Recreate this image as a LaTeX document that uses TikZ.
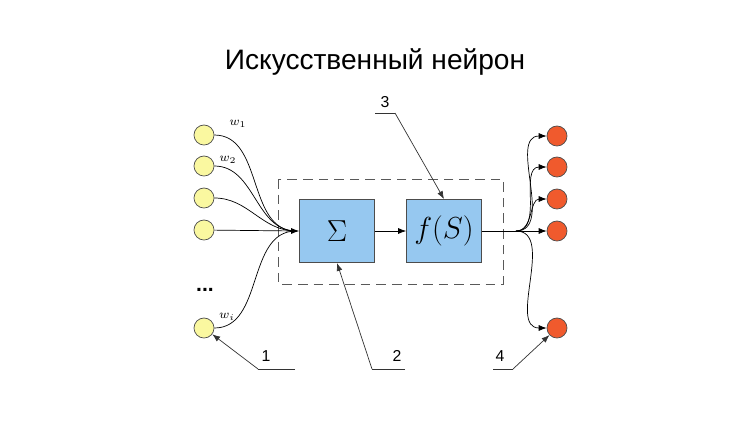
\documentclass[tikz,border=0pt]{standalone}
\usepackage{fontspec}
\setmainfont{Liberation Sans}
\usetikzlibrary{arrows.meta}
\definecolor{inyellow}{RGB}{250,248,160}
\definecolor{outred}{RGB}{240,90,45}
\definecolor{boxblue}{RGB}{150,200,240}
\begin{document}
\begin{tikzpicture}[x=0.02cm, y=-0.02cm,
    every edge/.style={draw, thin, -{Latex[length=4.5pt]}},
    callout/.style={draw, thin, gray!40!black, -{Latex[length=4.5pt]}}]
    \useasboundingbox (0,0) rectangle (750,420);
    \node (title) at (375,62) {\fontsize{16}{18}\selectfont Искусственный нейрон};

    % input neurons
    \begin{scope}[every node/.style={circle, fill=inyellow, draw=gray!60!black, minimum size=11.4pt, inner sep=0pt}]
        \node (i1) at (204,135) {};
        \node (i2) at (204,166) {};
        \node (i3) at (204,198) {};
        \node (i4) at (204,230) {};
        \node (in) at (204,328) {};
    \end{scope}
    \node at (205,290) {\large\textbf{...}};

    % output neurons
    \begin{scope}[every node/.style={circle, fill=outred, draw=gray!60!black, minimum size=11.4pt, inner sep=0pt}]
        \node (o1) at (557,136) {};
        \node (o2) at (557,167) {};
        \node (o3) at (557,199) {};
        \node (o4) at (557,231) {};
        \node (on) at (557,328) {};
    \end{scope}

    \draw[gray!70!black, dash pattern=on 5.5pt off 3.4pt] (278,179) rectangle (503,284);
    \begin{scope}[every node/.style={draw=gray!60!black, fill=boxblue, minimum width=42.7pt, minimum height=36pt, inner sep=0pt}]
        \node (sum) at (337,231) {\LARGE $\Sigma$};
        \node (act) at (444,231) {\LARGE $f(S)$};
    \end{scope}

    \coordinate (c) at (296,231);
    \coordinate (b) at (516,231);

    \begin{scope}[every edge/.style={draw, thin}]
        \path (i1) edge[out=0, in=180] (c);
        \path (i2) edge[out=0, in=180] (c);
        \path (i3) edge[out=0, in=180] (c);
        \path (i4) edge (c);
        \path (in) edge[out=0, in=180] (c);
        \path (act) edge (b);
    \end{scope}
    \path (c) edge (sum);
    \path (sum) edge (act);
    \path (b) edge[out=0, in=180] (o1);
    \path (b) edge[out=0, in=180] (o2);
    \path (b) edge[out=0, in=180] (o3);
    \path (b) edge (o4);
    \path (b) edge[out=0, in=180] (on);

    \node at (238,124) {\scriptsize $w_{\scriptscriptstyle 1}$};
    \node at (228,160) {\scriptsize $w_{\scriptscriptstyle 2}$};
    \node at (227,317) {\scriptsize $w_{\scriptscriptstyle i}$};

    % callouts
    \node (n1) at (266,356) {\small 1};
    \node (n2) at (397,356) {\small 2};
    \node (n3) at (385,102) {\small 3};
    \node (n4) at (500,356) {\small 4};
    \coordinate (u1) at (258,369);
    \coordinate (u2) at (372,369);
    \coordinate (u3) at (395,113);
    \coordinate (u4) at (513,369);
    \draw[gray!40!black, thin] (295,369) -- (u1);
    \draw[gray!40!black, thin] (405,369) -- (u2);
    \draw[gray!40!black, thin] (375,113) -- (u3);
    \draw[gray!40!black, thin] (493,369) -- (u4);
    \draw[callout] (u1) -- (in);
    \draw[callout] (u2) -- (sum.south);
    \draw[callout] (u3) -- (act.north);
    \draw[callout] (u4) -- (on);
\end{tikzpicture}
\end{document}
